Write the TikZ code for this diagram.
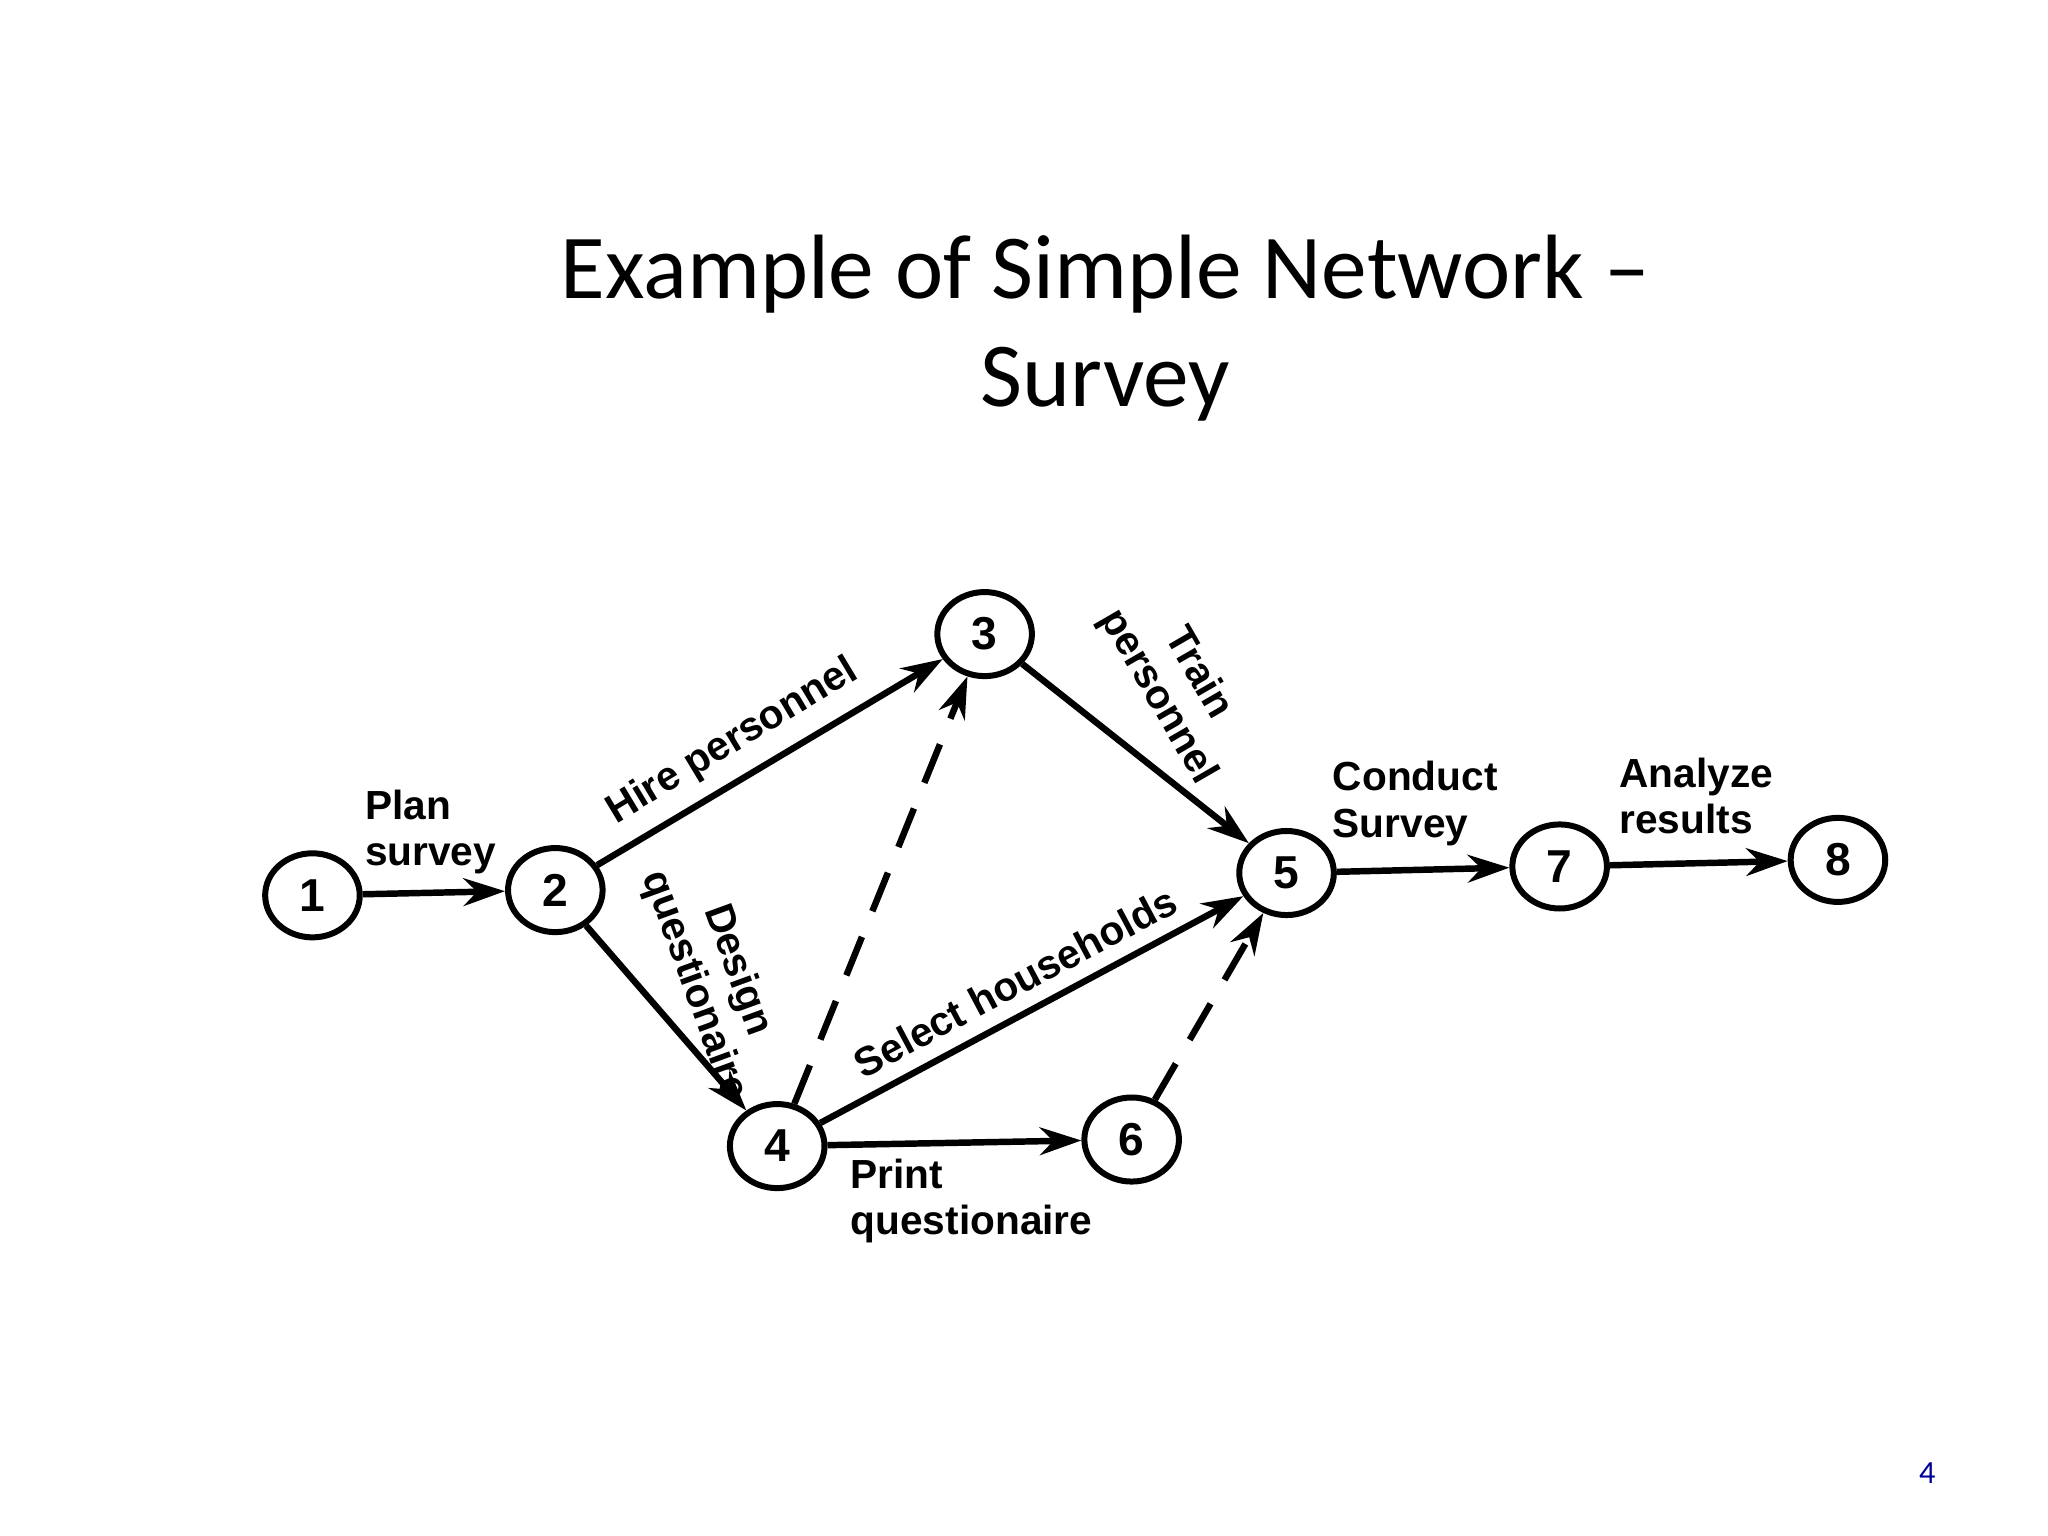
\documentclass[tikz,border=0pt]{standalone}
\usepackage{fontspec}
\setmainfont{Carlito}
\newfontfamily\lab{Liberation Sans}
\usetikzlibrary{arrows.meta,shapes.geometric}
\begin{document}
\begin{tikzpicture}[x=0.01cm,y=-0.01cm,
  ev/.style={draw,line width=1.3pt,ellipse,minimum width=0.72cm,minimum height=0.64cm,inner sep=0pt,font=\lab\bfseries\fontsize{10}{12}\selectfont},
  act/.style={line width=1.4pt,-{Stealth[length=9pt,width=6pt]}},
  dum/.style={act,dash pattern=on 9pt off 6pt},
  lb/.style={font=\lab\bfseries\fontsize{8.8}{10}\selectfont,align=left,inner sep=1pt}]
\useasboundingbox (0,0) rectangle (1560,1170);
\node[font=\fontsize{19.8}{23.5}\selectfont,align=center] (t) at (842,250) {Example of Simple Network --\\Survey};
\node[font=\fontsize{7}{8}\selectfont,text=blue!60!black] (pg) at (1468,1122) {4};
\node[ev] (n1) at (238,682) {1};
\node[ev] (n2) at (423,678) {2};
\node[ev] (n3) at (750,483) {3};
\node[ev] (n4) at (592,873) {4};
\node[ev] (n5) at (980,665) {5};
\node[ev] (n6) at (862,868) {6};
\node[ev] (n7) at (1188,660) {7};
\node[ev] (n8) at (1400,655) {8};
\draw[act] (n1) -- (n2);
\draw[act] (n2) -- (n3);
\draw[act] (n2) -- (n4);
\draw[act] (n3) -- (n5);
\draw[act] (n4) -- (n5);
\draw[act] (n4) -- (n6);
\draw[act] (n5) -- (n7);
\draw[act] (n7) -- (n8);
\draw[dum] (n4) -- (n3);
\draw[dum] (n6) -- (n5);
\node[lb] (l1) at (328,634) {Plan\\survey};
\node[lb,rotate=31] (l2) at (558,565) {Hire personnel};
\node[lb,rotate=-60,align=center] (l3) at (897,522) {Train\\personnel};
\node[lb,rotate=-70,align=center] (l4) at (545,745) {Design\\questionaire};
\node[lb,rotate=28] (l5) at (773,748) {Select households};
\node[lb] (l6) at (740,915) {Print\\questionaire};
\node[lb] (l7) at (1078,612) {Conduct\\Survey};
\node[lb] (l8) at (1292,606) {Analyze\\results};
\end{tikzpicture}
\end{document}
